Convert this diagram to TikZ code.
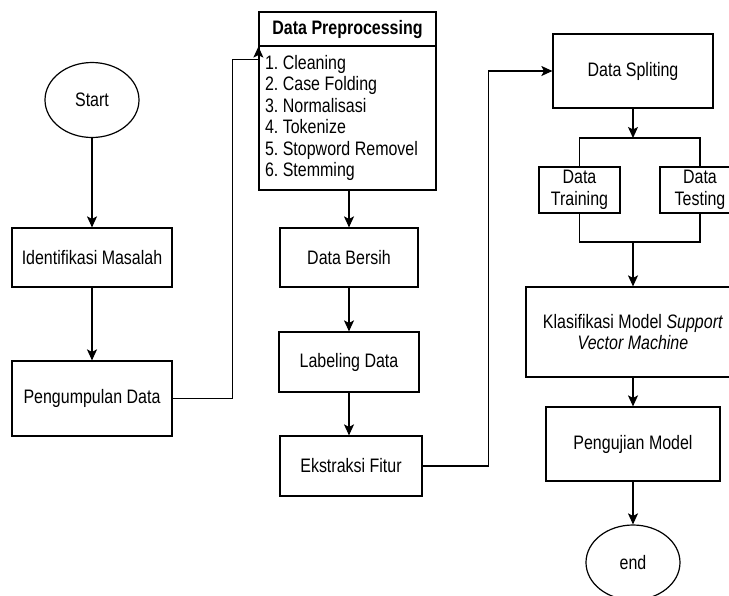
\documentclass[tikz,border=0pt]{standalone}
\usepackage{fontspec}
\setmainfont{Liberation Sans}[FakeStretch=0.82]
\usetikzlibrary{positioning,arrows.meta,shapes.geometric}

\newcommand{\diagfont}{\fontsize{19.5}{21.5}\selectfont\spaceskip=0.23em plus 0.1em\relax}

\tikzset{
  >={Stealth[length=11pt,width=10pt,inset=2.5pt]},
  box/.style={draw, rectangle, line width=1.2pt, inner sep=0pt, align=center},
  oval/.style={draw, ellipse, line width=1.2pt, inner sep=0pt, minimum width=94pt, minimum height=75pt},
  link/.style={line width=1.2pt}
}

\begin{document}
\frenchspacing
\begin{tikzpicture}[x=1pt, y=-1pt, font=\diagfont]
\useasboundingbox (0,0) rectangle (729,595);
\clip (0,0) rectangle (729,595);

% left column
\node[oval] (start) at (92,100) {Start};
\node[box, minimum width=160pt, minimum height=59pt] (identifikasi) at (92,257.5) {Identifikasi Masalah};
\node[box, minimum width=160pt, minimum height=75pt] (pengumpulan) at (92,398.5) {Pengumpulan Data};

\draw[link,->] (start) -- (identifikasi);
\draw[link,->] (identifikasi) -- (pengumpulan);

% middle column
\node[box, minimum width=177pt, minimum height=34pt] (preT) at (347.5,29) {\textbf{Data Preprocessing}};
\node[box, minimum width=177pt, minimum height=144pt, text width=165pt, align=left,
  execute at begin node={\spaceskip=0.23em plus 0.1em\relax}] (preL) at (347.5,118)
  {1. Cleaning\\2. Case Folding\\3. Normalisasi\\4. Tokenize\\5. Stopword Removel\\6. Stemming};
\node[box, minimum width=138pt, minimum height=59pt] (bersih) at (349,257.5) {Data Bersih};
\node[box, minimum width=140pt, minimum height=60pt] (labeling) at (349,362) {Labeling Data};
\node[box, minimum width=142pt, minimum height=60pt] (ekstraksi) at (351,466) {Ekstraksi Fitur};

\draw[link,->] (pengumpulan.east) -- ++(60,0) |- ([yshift=-13pt]preT.south west) -- (preT.south west);
\draw[link,->] (preL.south -| bersih) -- (bersih);
\draw[link,->] (bersih) -- (labeling);
\draw[link,->] (labeling) -- (labeling |- ekstraksi.north);

% right column
\node[box, minimum width=160pt, minimum height=74pt] (spliting) at (633,71) {Data Spliting};
\node[box, minimum width=81pt, minimum height=46pt] (training) at (579.5,190) {Data\\Training};
\node[box, minimum width=80pt, minimum height=46pt] (testing) at (700,190) {Data\\Testing};
\node[box, minimum width=214pt, minimum height=90pt] (klasifikasi) at (633,332)
  {Klasifikasi Model \textit{Support}\\\textit{Vector Machine}};
\node[box, minimum width=174pt, minimum height=74pt] (pengujian) at (633,444) {Pengujian Model};
\node[oval] (end) at (633,562.5) {end};

\coordinate (split) at (633,138);
\coordinate (merge) at (633,242);

\draw[link,->] (ekstraksi.east) -- ++(66,0) |- (spliting.west);
\draw[link,->] (spliting) -- (split);
\draw[link] (training.north) |- (split) -| (testing.north);
\draw[link] (training.south) |- (merge) -| (testing.south);
\draw[link,->] (merge) -- (klasifikasi);
\draw[link,->] (klasifikasi) -- (pengujian);
\draw[link,->] (pengujian) -- (end);
\end{tikzpicture}
\end{document}
